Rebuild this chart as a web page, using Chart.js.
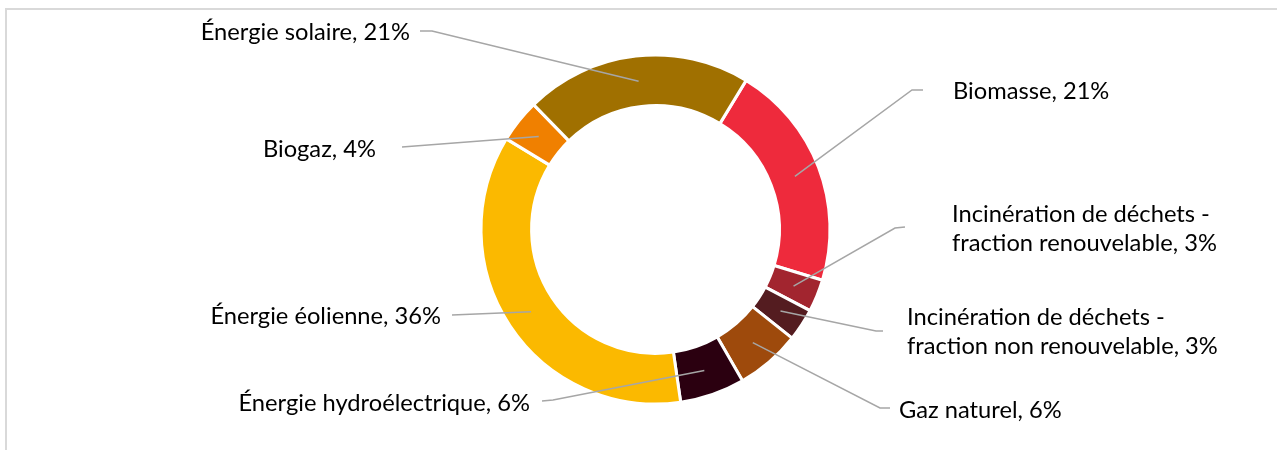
<!DOCTYPE html>
<html lang="fr">
<head>
<meta charset="utf-8">
<title>Mix énergétique</title>
<script src="https://cdn.jsdelivr.net/npm/chart.js@4/dist/chart.umd.min.js"></script>
<style>
  html, body { margin: 0; padding: 0; background: #fff; }
  #canvas { display: block; }
</style>
</head>
<body>
<canvas id="canvas" width="1277" height="450"></canvas>
<script>
// catégories (une entrée par ligne de texte pour les libellés longs)
var categories = [
  ['Biomasse'],
  ['Incinération de déchets -', 'fraction renouvelable'],
  ['Incinération de déchets -', 'fraction non renouvelable'],
  ['Gaz naturel'],
  ['Énergie hydroélectrique'],
  ['Énergie éolienne'],
  ['Biogaz'],
  ['Énergie solaire']
];
// parts en %
var shares = [21, 3, 3, 6, 6, 36, 4, 21];
var sliceColors = ['#ee2a3c', '#a2252f', '#541c20', '#9e4a0c', '#2b0010', '#fbb900', '#f08000', '#a07000'];

// placement des étiquettes : coudes du trait de rappel + position du texte
var labelLayout = [
  { line: [[912, 90], [923, 90]],   x: 953, y: 91,  align: 'left' },
  { line: [[895, 228], [905, 227]], x: 952, y: 229, align: 'left' },
  { line: [[876, 331], [883, 331]], x: 907, y: 332, align: 'left' },
  { line: [[880, 408], [890, 408]], x: 899, y: 410, align: 'left' },
  { line: [[553, 400], [542, 401]], x: 530, y: 403, align: 'right' },
  { line: [[452, 315]],             x: 441, y: 316, align: 'right' },
  { line: [[402, 147]],             x: 376, y: 149, align: 'right' },
  { line: [[432, 31], [420, 31]],   x: 410, y: 32,  align: 'right' }
];

var FONT = '23.7px Lato, "Liberation Sans", sans-serif';
var LINE_H = 29;

// cadre gris clair (haut + gauche)
var framePlugin = {
  id: 'frame',
  beforeDraw: function (chart) {
    var ctx = chart.ctx;
    ctx.save();
    ctx.strokeStyle = '#d9d9d9';
    ctx.lineWidth = 2;
    ctx.beginPath();
    ctx.moveTo(6, 450);
    ctx.lineTo(6, 9);
    ctx.lineTo(1277, 9);
    ctx.stroke();
    ctx.restore();
  }
};

// traits de rappel + étiquettes "nom, xx%"
var sliceLabels = {
  id: 'sliceLabels',
  afterDatasetsDraw: function (chart) {
    var ctx = chart.ctx;
    var arcs = chart.getDatasetMeta(0).data;
    ctx.save();
    arcs.forEach(function (arc, i) {
      var p = arc.getProps(['x', 'y', 'startAngle', 'endAngle', 'innerRadius', 'outerRadius'], true);
      var mid = (p.startAngle + p.endAngle) / 2;
      var r = (p.innerRadius + p.outerRadius) / 2;
      var lay = labelLayout[i];

      ctx.beginPath();
      ctx.moveTo(p.x + Math.cos(mid) * r, p.y + Math.sin(mid) * r);
      lay.line.forEach(function (pt) { ctx.lineTo(pt[0], pt[1]); });
      ctx.strokeStyle = '#a6a6a6';
      ctx.lineWidth = 1.5;
      ctx.stroke();

      var lines = categories[i].slice();
      lines[lines.length - 1] += ', ' + shares[i] + '%';
      ctx.font = FONT;
      ctx.fillStyle = '#000';
      ctx.textAlign = lay.align;
      ctx.textBaseline = 'middle';
      var y0 = lay.y - (lines.length - 1) * LINE_H / 2;
      lines.forEach(function (t, k) {
        ctx.fillText(t, lay.x, y0 + k * LINE_H);
      });
    });
    ctx.restore();
  }
};

var ctx = document.getElementById('canvas').getContext('2d');
window.myChart = new Chart(ctx, {
  type: 'doughnut',
  data: {
    labels: categories,
    datasets: [{
      data: shares,
      backgroundColor: sliceColors,
      borderColor: '#ffffff',
      borderWidth: 3
    }]
  },
  options: {
    responsive: false,
    animation: false,
    devicePixelRatio: 1,
    rotation: 31.3,
    cutout: '71%',
    layout: { padding: { left: 479.5, right: 445.5, top: 53.5, bottom: 44.5 } },
    plugins: {
      legend: { display: false },
      tooltip: { enabled: false }
    }
  },
  plugins: [framePlugin, sliceLabels]
});
</script>
</body>
</html>
